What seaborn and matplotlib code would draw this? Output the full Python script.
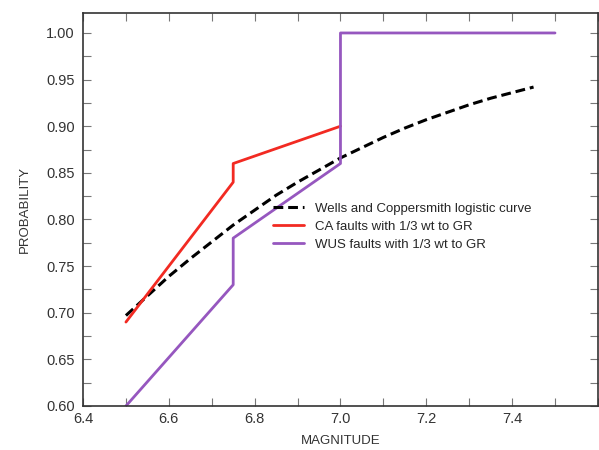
import matplotlib
matplotlib.use("Agg")
import matplotlib.pyplot as plt
from matplotlib.ticker import MultipleLocator
import seaborn as sns
import pandas as pd

# Wells and Coppersmith logistic curve
wc_mag = [6.50, 6.55, 6.60, 6.65, 6.70, 6.75, 6.80, 6.85, 6.90, 6.95, 7.00,
          7.05, 7.10, 7.15, 7.20, 7.25, 7.30, 7.35, 7.40, 7.45]
wc_prob = [0.697, 0.718, 0.739, 0.758, 0.776, 0.794, 0.810, 0.826, 0.840, 0.853, 0.866,
           0.877, 0.888, 0.898, 0.907, 0.915, 0.923, 0.930, 0.936, 0.942]

# CA faults with 1/3 wt to GR
ca_mag = [6.50, 6.75, 6.75, 7.00]
ca_prob = [0.69, 0.84, 0.86, 0.90]

# WUS faults with 1/3 wt to GR
wus_mag = [6.50, 6.75, 6.75, 7.00, 7.00, 7.50]
wus_prob = [0.60, 0.73, 0.78, 0.86, 1.00, 1.00]

labels = ["Wells and Coppersmith logistic curve",
          "CA faults with 1/3 wt to GR",
          "WUS faults with 1/3 wt to GR"]

sns.set_style("ticks")
plt.rcParams['font.family'] = ['Liberation Sans', 'DejaVu Sans']

fig = plt.figure(figsize=(5.99, 4.5), dpi=100)
ax = fig.add_axes([0.1386, 0.0978, 0.8596, 0.8733])

wc = pd.DataFrame({"mag": wc_mag, "prob": wc_prob})
ca = pd.DataFrame({"mag": ca_mag, "prob": ca_prob})
wus = pd.DataFrame({"mag": wus_mag, "prob": wus_prob})

sns.lineplot(data=wc, x="mag", y="prob", ax=ax, color="black", lw=2.2,
             linestyle=(0, (3.2, 1.6)), sort=False, estimator=None, label=labels[0])
sns.lineplot(data=ca, x="mag", y="prob", ax=ax, color="#f22a22", lw=2,
             sort=False, estimator=None, label=labels[1])
sns.lineplot(data=wus, x="mag", y="prob", ax=ax, color="#9657bf", lw=2,
             sort=False, estimator=None, label=labels[2])

ax.set_xlim(6.4, 7.6)
ax.set_ylim(0.60, 1.0214)
ax.set_xticks([6.4, 6.6, 6.8, 7.0, 7.2, 7.4])
ax.set_xticklabels(["6.4", "6.6", "6.8", "7.0", "7.2", "7.4"])
ax.set_yticks([0.60, 0.65, 0.70, 0.75, 0.80, 0.85, 0.90, 0.95, 1.00])
ax.set_yticklabels(["0.60", "0.65", "0.70", "0.75", "0.80", "0.85", "0.90", "0.95", "1.00"])
ax.xaxis.set_minor_locator(MultipleLocator(0.1))
ax.yaxis.set_minor_locator(MultipleLocator(0.025))
ax.tick_params(which="both", direction="in", top=True, right=True,
               color="#777777", labelsize=10.5, labelcolor="#333333")
ax.tick_params(which="both", length=6, width=0.8)
ax.tick_params(axis="x", pad=4)
ax.tick_params(axis="y", pad=6)
for s in ax.spines.values():
    s.set_color("#333333")
    s.set_linewidth(1.2)

ax.set_xlabel("MAGNITUDE", fontsize=9.5, color="#333333", labelpad=7)
ax.set_ylabel("PROBABILITY", fontsize=9.5, color="#333333", labelpad=11)

ax.legend(loc="upper left", bbox_to_anchor=(0.345, 0.548), frameon=False,
          handlelength=2.4, handletextpad=0.8, labelspacing=0.45,
          prop={"size": 9.5})

fig.savefig("out.png", dpi=100)
